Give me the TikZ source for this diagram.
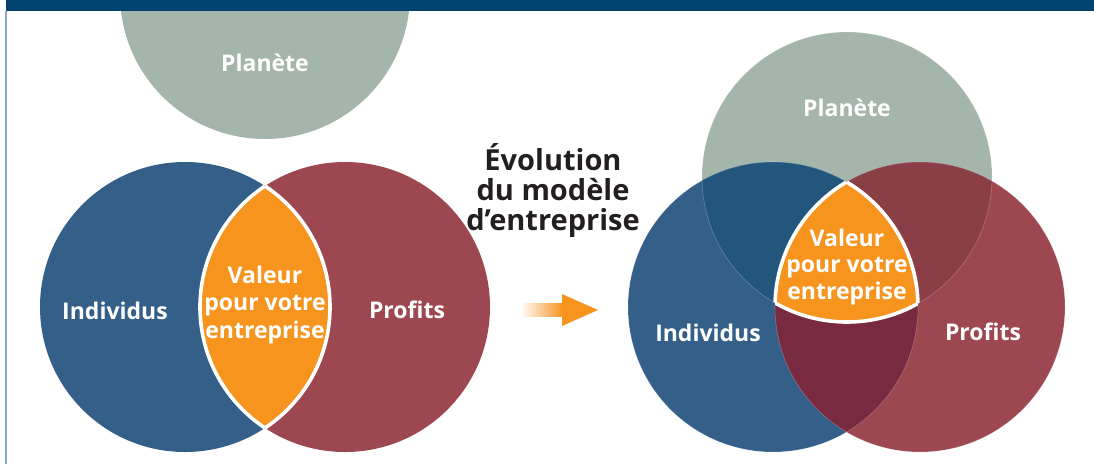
\documentclass[tikz,border=0pt]{standalone}
\usepackage{fontspec}
\setmainfont{Open Sans}
\definecolor{barblue}{HTML}{00436F}
\definecolor{lineblue}{HTML}{8AAAD2}
\definecolor{planet}{HTML}{A4B5AB}
\definecolor{indiv}{HTML}{345F89}
\definecolor{profit}{HTML}{9D4750}
\definecolor{indivplanet}{HTML}{23567C}
\definecolor{profitplanet}{HTML}{8A3E45}
\definecolor{indivprofit}{HTML}{772A40}
\definecolor{valeur}{HTML}{F7941E}
\definecolor{titlegray}{HTML}{231F20}
\begin{document}
\begin{tikzpicture}[x=1pt,y=-1pt,
  lbl/.style={text=white,font=\bfseries\fontsize{23}{27.5}\selectfont,align=center,inner sep=0pt},
  ttl/.style={text=titlegray,font=\bfseries\fontsize{29}{30}\selectfont,align=center,inner sep=0pt},
  rim/.style={white,line width=3.6pt},
  edge/.style={white,opacity=0.25,line width=0.6pt}]
\useasboundingbox (0,0) rectangle (1094,464);
\def\r{145}
\coordinate (pL) at (265,-6);
\coordinate (iL) at (185,307);
\coordinate (fL) at (345,307);
\coordinate (pR) at (847,177);
\coordinate (iR) at (773,307);
\coordinate (fR) at (920,307);

\fill[planet] (pL) circle (\r);
\fill[indiv] (iL) circle (\r);
\fill[profit] (fL) circle (\r);
\begin{scope}
\clip (iL) circle (\r);
\fill[valeur] (fL) circle (\r);
\draw[rim] (fL) circle (\r);
\end{scope}
\begin{scope}
\clip (fL) circle (\r);
\draw[rim] (iL) circle (\r);
\end{scope}

\fill[planet] (pR) circle (\r);
\fill[indiv] (iR) circle (\r);
\fill[profit] (fR) circle (\r);
\begin{scope}
\clip (iR) circle (\r);
\fill[indivplanet] (pR) circle (\r);
\fill[indivprofit] (fR) circle (\r);
\end{scope}
\begin{scope}
\clip (fR) circle (\r);
\fill[profitplanet] (pR) circle (\r);
\end{scope}
\draw[edge] (pR) circle (\r) (iR) circle (\r) (fR) circle (\r);
\begin{scope}
\clip (iR) circle (\r);
\clip (fR) circle (\r);
\fill[valeur] (pR) circle (\r);
\draw[rim] (pR) circle (\r);
\end{scope}
\begin{scope}
\clip (iR) circle (\r);
\clip (pR) circle (\r);
\draw[rim] (fR) circle (\r);
\end{scope}
\begin{scope}
\clip (fR) circle (\r);
\clip (pR) circle (\r);
\draw[rim] (iR) circle (\r);
\end{scope}

\fill[barblue] (6,0) rectangle (1094,11);
\draw[lineblue,line width=1.2pt] (6,11) -- (6,464);

\shade[left color=white,right color=valeur] (520,303) rectangle (563,316);
\fill[valeur] (562,294) -- (598,310) -- (562,326) -- cycle;

\node[lbl] (planeteL) at (265,63) {Planète};
\node[lbl] (individusL) at (115,311) {Individus};
\node[lbl] (profitsL) at (407,310) {Profits};
\node[lbl] (valeurL) at (265,305) {Valeur\\pour votre\\entreprise};
\node[ttl] (evolution) at (553,190) {Évolution\\du modèle\\d’entreprise};
\node[lbl] (planeteR) at (847,108) {Planète};
\node[lbl] (individusR) at (708,333) {Individus};
\node[lbl] (profitsR) at (983,332) {Profits};
\node[lbl,font=\bfseries\fontsize{23}{26.5}\selectfont] (valeurR) at (847,267) {Valeur\\pour votre\\entreprise};
\end{tikzpicture}
\end{document}
